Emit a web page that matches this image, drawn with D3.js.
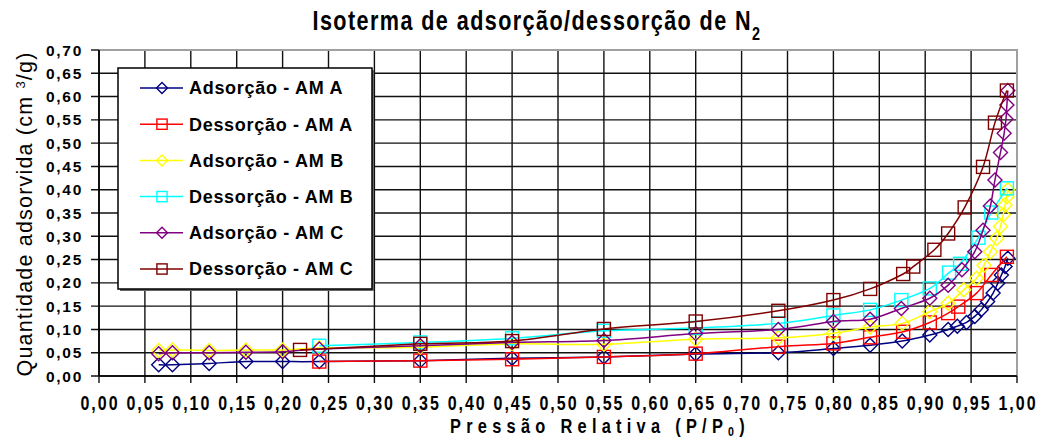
<!DOCTYPE html>
<html>
<head>
<meta charset="utf-8">
<script src="https://cdn.jsdelivr.net/npm/d3@7/dist/d3.min.js"></script>
<style>
  body { margin: 0; background: #fff; }
  svg { display: block; }
</style>
</head>
<body>
<script>
// Axis ticks
const xTickValues = d3.range(0, 21).map(i => i * 0.05);
const yTickValues = d3.range(0, 15).map(i => i * 0.05);

// Series names
const seriesNames = [
  "Adsorção - AM A", "Dessorção - AM A",
  "Adsorção - AM B", "Dessorção - AM B",
  "Adsorção - AM C", "Dessorção - AM C"
];

// Adsorção - AM A
const adsAX = [0.065, 0.080, 0.120, 0.160, 0.200, 0.240, 0.350, 0.450, 0.550, 0.650, 0.740, 0.800, 0.840, 0.875, 0.905, 0.925, 0.935, 0.945, 0.954, 0.961, 0.968, 0.974, 0.979, 0.983, 0.987, 0.990];
const adsAY = [0.024, 0.024, 0.027, 0.031, 0.031, 0.031, 0.033, 0.038, 0.041, 0.047, 0.050, 0.059, 0.066, 0.075, 0.088, 0.100, 0.107, 0.115, 0.128, 0.142, 0.160, 0.178, 0.199, 0.217, 0.235, 0.253];

// Dessorção - AM A
const desAX = [0.240, 0.350, 0.450, 0.550, 0.650, 0.740, 0.800, 0.840, 0.876, 0.905, 0.925, 0.936, 0.956, 0.972, 0.989];
const desAY = [0.031, 0.033, 0.036, 0.041, 0.048, 0.063, 0.070, 0.083, 0.095, 0.115, 0.135, 0.149, 0.178, 0.217, 0.256];

// Adsorção - AM B
const adsBX = [0.065, 0.080, 0.120, 0.160, 0.200, 0.240, 0.350, 0.450, 0.550, 0.650, 0.740, 0.800, 0.840, 0.875, 0.905, 0.925, 0.942, 0.956, 0.964, 0.971, 0.978, 0.982, 0.985, 0.987, 0.989, 0.990];
const adsBY = [0.055, 0.056, 0.055, 0.056, 0.056, 0.060, 0.062, 0.069, 0.068, 0.079, 0.082, 0.092, 0.105, 0.113, 0.138, 0.156, 0.185, 0.210, 0.238, 0.267, 0.296, 0.321, 0.346, 0.367, 0.385, 0.400];

// Dessorção - AM B
const desBX = [0.240, 0.350, 0.450, 0.550, 0.650, 0.740, 0.800, 0.840, 0.874, 0.905, 0.926, 0.938, 0.958, 0.972, 0.989];
const desBY = [0.065, 0.072, 0.081, 0.097, 0.103, 0.113, 0.130, 0.142, 0.163, 0.188, 0.222, 0.241, 0.297, 0.351, 0.403];

// Adsorção - AM C
const adsCX = [0.065, 0.080, 0.120, 0.160, 0.200, 0.240, 0.350, 0.450, 0.550, 0.650, 0.740, 0.800, 0.840, 0.874, 0.905, 0.925, 0.940, 0.954, 0.963, 0.971, 0.976, 0.982, 0.986, 0.988, 0.989, 0.990];
const adsCY = [0.048, 0.050, 0.050, 0.051, 0.052, 0.058, 0.065, 0.072, 0.076, 0.091, 0.100, 0.117, 0.122, 0.145, 0.167, 0.195, 0.228, 0.267, 0.313, 0.365, 0.421, 0.480, 0.521, 0.552, 0.582, 0.613];

// Dessorção - AM C
const desCX = [0.219, 0.350, 0.450, 0.550, 0.650, 0.740, 0.800, 0.840, 0.876, 0.887, 0.910, 0.925, 0.943, 0.963, 0.976, 0.989];
const desCY = [0.056, 0.069, 0.075, 0.101, 0.117, 0.140, 0.163, 0.187, 0.219, 0.235, 0.271, 0.306, 0.362, 0.449, 0.544, 0.613];

const width = 1039;
const height = 438;
const plot = { left: 99, right: 1017, top: 50, bottom: 376 };
const fontFamily = '"Liberation Sans", Arial, sans-serif';

const series = [
  { name: seriesNames[0], color: "#000080", shape: "diamond", xs: adsAX, ys: adsAY },
  { name: seriesNames[1], color: "#ff0000", shape: "square",  xs: desAX, ys: desAY },
  { name: seriesNames[2], color: "#ffff00", shape: "diamond", xs: adsBX, ys: adsBY },
  { name: seriesNames[3], color: "#00ffff", shape: "square",  xs: desBX, ys: desBY },
  { name: seriesNames[4], color: "#800080", shape: "diamond", xs: adsCX, ys: adsCY },
  { name: seriesNames[5], color: "#800000", shape: "square",  xs: desCX, ys: desCY }
];

const x = d3.scaleLinear().domain([0, 1]).range([plot.left, plot.right]);
const y = d3.scaleLinear().domain([0, 0.7]).range([plot.bottom, plot.top]);
const fmt = v => d3.format(".2f")(v).replace(".", ",");

const svg = d3.select("body").append("svg")
  .attr("width", width)
  .attr("height", height);

// Stretch text to a given width with letter spacing.
function fitWidth(sel, target) {
  sel.each(function() {
    const n = this.textContent.length;
    const w = this.getComputedTextLength();
    d3.select(this).attr("letter-spacing", (target - w) / n);
  });
}

// Title (condensed look)
const squeeze = 0.8;
const title = svg.append("text")
  .attr("transform", `translate(537,30) scale(${squeeze},1)`)
  .attr("text-anchor", "middle")
  .style("font-family", fontFamily)
  .style("font-weight", "bold")
  .style("font-size", "27px");
title.append("tspan").text("Isoterma de adsorção/dessorção de N");
title.append("tspan").attr("baseline-shift", "sub").style("font-size", "18px").text("2");
fitWidth(title, 449 / squeeze);

// Plot background
svg.append("rect")
  .attr("x", plot.left).attr("y", plot.top)
  .attr("width", plot.right - plot.left).attr("height", plot.bottom - plot.top)
  .attr("fill", "#fff");

// Grid: vertical lines, extending below axis as ticks
svg.append("g").selectAll("line")
  .data(xTickValues)
  .enter().append("line")
  .attr("x1", d => x(d)).attr("x2", d => x(d))
  .attr("y1", d => d === 1 ? plot.bottom : plot.top)
  .attr("y2", plot.bottom + 7)
  .attr("stroke", "#111")
  .attr("stroke-width", 1.4);

// Grid: horizontal lines, extending left of axis as ticks
svg.append("g").selectAll("line")
  .data(yTickValues)
  .enter().append("line")
  .attr("x1", plot.left - 8)
  .attr("x2", d => d >= 0.699 ? plot.left : plot.right)
  .attr("y1", d => y(d)).attr("y2", d => y(d))
  .attr("stroke", "#111")
  .attr("stroke-width", 1.4);

// Top and right border (gray)
svg.append("path")
  .attr("d", `M${plot.left},${plot.top}H${plot.right}V${plot.bottom}`)
  .attr("fill", "none")
  .attr("stroke", "#a0a0a0")
  .attr("stroke-width", 2);

// Axis lines
svg.append("line")
  .attr("x1", plot.left).attr("x2", plot.left)
  .attr("y1", plot.top).attr("y2", plot.bottom)
  .attr("stroke", "#000").attr("stroke-width", 1.6);
svg.append("line")
  .attr("x1", plot.left).attr("x2", plot.right)
  .attr("y1", plot.bottom).attr("y2", plot.bottom)
  .attr("stroke", "#000").attr("stroke-width", 1.6);

// Y tick labels
const yLabels = svg.append("g").selectAll("text")
  .data(yTickValues)
  .enter().append("text")
  .attr("x", 83)
  .attr("y", d => y(d))
  .attr("dy", "0.36em")
  .attr("text-anchor", "end")
  .style("font-family", fontFamily)
  .style("font-weight", "bold")
  .style("font-size", "15.5px")
  .text(d => fmt(d));
fitWidth(yLabels, 37);

// X tick labels (condensed look)
const xLabels = svg.append("g").selectAll("text")
  .data(xTickValues)
  .enter().append("text")
  .attr("transform", d => `translate(${x(d) + 1},410) scale(0.78,1)`)
  .attr("text-anchor", "middle")
  .style("font-family", fontFamily)
  .style("font-weight", "bold")
  .style("font-size", "20.5px")
  .text(d => fmt(d));
fitWidth(xLabels, 39 / 0.78);

// Y axis title
const yTitle = svg.append("text")
  .attr("transform", `translate(32,${(plot.top + plot.bottom) / 2 + 1}) rotate(-90)`)
  .attr("text-anchor", "middle")
  .style("font-family", fontFamily)
  .style("font-size", "21.5px");
yTitle.append("tspan").text("Quantidade adsorvida (cm ");
yTitle.append("tspan").attr("baseline-shift", "super").style("font-size", "13px").text("3");
yTitle.append("tspan").text("/g)");
fitWidth(yTitle, 325);

// X axis title (condensed look)
const xTitle = svg.append("text")
  .attr("transform", "translate(600,433) scale(0.82,1)")
  .attr("text-anchor", "middle")
  .style("font-family", fontFamily)
  .style("font-weight", "bold")
  .style("font-size", "20px");
xTitle.append("tspan").text("Pressão Relativa (P/P");
xTitle.append("tspan").attr("dy", 3).style("font-size", "13px").text("0");
xTitle.append("tspan").attr("dy", -3).text(")");
fitWidth(xTitle, 300 / 0.82);

// Marker drawing
function drawMarker(g, shape, color, size) {
  if (shape === "diamond") {
    g.append("path")
      .attr("d", `M0,${-size}L${size},0L0,${size}L${-size},0Z`)
      .attr("fill", "none")
      .attr("stroke", color)
      .attr("stroke-width", 1.4);
  } else {
    const s = size * 0.93;
    g.append("rect")
      .attr("x", -s).attr("y", -s)
      .attr("width", 2 * s).attr("height", 2 * s)
      .attr("fill", "none")
      .attr("stroke", color)
      .attr("stroke-width", 1.4);
  }
}

const line = d3.line()
  .x(d => x(d[0]))
  .y(d => y(d[1]))
  .curve(d3.curveCatmullRom.alpha(0));

// Series: lines and markers
series.forEach(s => {
  const pts = s.xs.map((v, i) => [v, s.ys[i]]);
  const g = svg.append("g");
  g.append("path")
    .datum(pts)
    .attr("d", line)
    .attr("fill", "none")
    .attr("stroke", s.color)
    .attr("stroke-width", 1.5);
  g.selectAll(".marker")
    .data(pts)
    .enter().append("g")
    .attr("class", "marker")
    .attr("transform", d => `translate(${x(d[0])},${y(d[1])})`)
    .each(function() { drawMarker(d3.select(this), s.shape, s.color, 7); });
});

// Legend
const legend = svg.append("g").attr("transform", "translate(118,68)");
legend.append("rect")
  .attr("x", 2).attr("y", 2)
  .attr("width", 254).attr("height", 221)
  .attr("fill", "#666");
legend.append("rect")
  .attr("width", 254).attr("height", 221)
  .attr("fill", "#fff")
  .attr("stroke", "#000")
  .attr("stroke-width", 1.5);

const entry = legend.selectAll(".entry")
  .data(series)
  .enter().append("g")
  .attr("class", "entry")
  .attr("transform", (d, i) => `translate(0,${20 + i * 36.2})`);
entry.append("line")
  .attr("x1", 22).attr("x2", 65)
  .attr("stroke", d => d.color)
  .attr("stroke-width", 1.5);
entry.each(function(d) {
  const m = d3.select(this).append("g").attr("transform", "translate(44,0)");
  drawMarker(m, d.shape, d.color, 5.5);
});
entry.append("text")
  .attr("x", 71)
  .attr("dy", "0.36em")
  .attr("letter-spacing", 0.7)
  .style("font-family", fontFamily)
  .style("font-weight", "bold")
  .style("font-size", "18px")
  .text(d => d.name);
</script>
</body>
</html>
